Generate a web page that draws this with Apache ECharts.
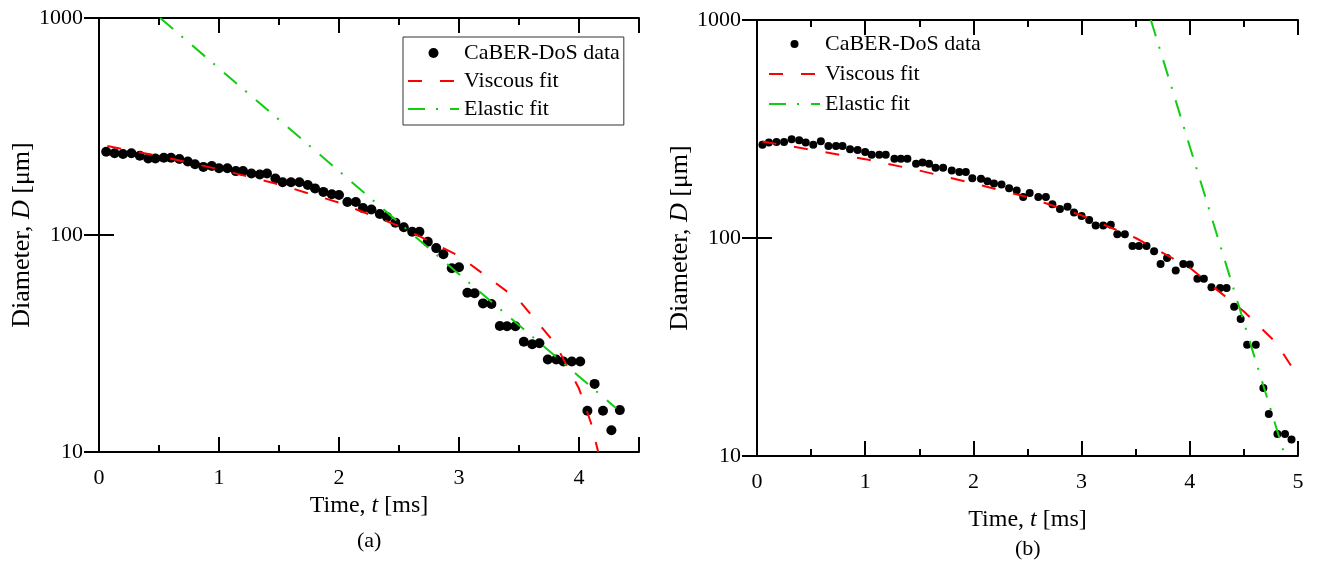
<!DOCTYPE html>
<html>
<head>
<meta charset="utf-8">
<script src="https://cdn.jsdelivr.net/npm/echarts@6/dist/echarts.min.js"></script>
<style>html,body{margin:0;padding:0;background:#fff}#main{width:1317px;height:562px}</style>
</head>
<body>
<div id="main"></div>
<script>
// ---------- DATA ----------
const leftT = [0.06,0.13,0.20,0.27,0.34,0.41,0.47,0.54,0.60,0.67,0.74,0.80,0.87,0.94,1.00,1.07,1.14,1.20,1.27,1.34,1.40,1.47,1.53,1.60,1.67,1.74,1.80,1.87,1.94,2.00,2.07,2.14,2.20,2.27,2.34,2.40,2.47,2.54,2.61,2.67,2.74,2.81,2.87,2.94,3.00,3.07,3.13,3.20,3.27,3.34,3.40,3.47,3.54,3.61,3.67,3.74,3.81,3.87,3.94,4.01,4.07,4.13,4.20,4.27,4.34];
const leftD = [242,238,236,238,232,225,225,227,227,224,218,212,206,208,203,203,197,197,192,190,192,182,175,175,175,170,164,158,154,153,142,142,133,131,125,121,114,108.5,103.5,103.5,93,87,81.5,70.3,71,54.2,53.9,48.4,48.1,38.1,38,38,32.2,31.4,31.7,26.7,26.7,26.1,26.1,26.1,15.5,20.6,15.5,12.6,15.6];
const leftViscT = [0.07,0.5,1.0,1.5,2.0,2.5,3.0,3.5,3.8,4.0,4.1,4.16];
const leftViscD = [257,231,201,171,141,110,80,50,31.7,19.6,13.6,10];
const leftElasT = [0.51,1.0,1.5,2.0,2.5,3.0,3.5,4.0,4.31];
const leftElasD = [1000,586,340,197,114,66,38.4,22.3,15.9];

const rightT = [0.05,0.11,0.18,0.25,0.32,0.39,0.45,0.52,0.59,0.66,0.73,0.79,0.86,0.93,1.00,1.06,1.13,1.19,1.27,1.33,1.39,1.47,1.53,1.59,1.65,1.72,1.80,1.87,1.93,1.99,2.07,2.13,2.19,2.26,2.33,2.40,2.46,2.52,
  2.60,2.67,2.73,2.80,2.87,2.93,3.00,3.07,3.13,3.20,3.27,3.33,3.40,3.47,3.53,3.60,3.67,3.73,3.79,3.87,3.94,4.00,4.07,4.13,4.20,4.28,4.34,4.41,4.47,4.53,4.61,4.68,4.73,4.81,4.88,4.94];
const rightD = [268,274,276,276,284,281,274,268,278,264,264,264,255,253,248,241,241,241,231,231,231,219,222,219,210,210,204,201,201,188,187,182,178,176,169,165,154,161,
  154,154,143,136,139,131,126,121,114,114,115,104,104,92,92,92,87,76,81,71,76,75.5,65,65,59.4,59,59,48.4,42.5,32.4,32.4,20.5,15.6,12.6,12.6,11.9];
const rightViscT = [0.05,0.5,1.0,1.5,2.0,2.5,3.0,3.5,4.0,4.5,4.8,4.98];
const rightViscD = [277,254,230,204,178,154,127,100,73,46,33,24];
const rightElasT = [3.64,3.9,4.2,4.5,4.7,4.88];
const rightElasD = [1000,381,125,41,19.5,10];

const seriesNames = ['CaBER-DoS data','Viscous fit','Elastic fit'];
const xTitle = 'Time, {i|t} [ms]';
const yTitle = 'Diameter, {i|D} [\u03bcm]';
const panelLabels = ['(a)','(b)'];
const xMax = [4.5, 5];

// ---------- STYLE ----------
const FONT = 'Liberation Serif';
const FS = 22;
const FSX = 24;
const FSY = 26;
const RED = '#ff0000';
const GREEN = '#11cc11';
const zip = (a,b) => a.map((v,i)=>[v,b[i]]);
const txt = {fontFamily: FONT, fontSize: FS, color: '#000'};

const grids = [
  {left: 99, top: 18, width: 540, height: 434},
  {left: 757, top: 20, width: 541, height: 436}
];

const xAxes = [];
const yAxes = [];
const nameGapsX = [41, 52];
grids.forEach((g, gi) => {
  const base = {type: 'value', gridIndex: gi, min: 0, max: xMax[gi], splitLine: {show: false}};
  const line = {show: true, lineStyle: {color: '#000', width: 2}};
  xAxes.push(Object.assign({}, base, {
    position: 'bottom', interval: 0.5, axisLine: line,
    axisTick: {show: true, inside: true, length: 7, lineStyle: {color: '#000', width: 2}},
    axisLabel: Object.assign({}, txt, {margin: 15, showMaxLabel: gi === 1,
      formatter: v => (Math.abs(v - Math.round(v)) < 1e-9 ? String(Math.round(v)) : '')}),
    name: xTitle, nameLocation: 'middle', nameGap: nameGapsX[gi],
    nameTextStyle: {fontFamily: FONT, fontSize: FSX, color: '#000', rich: {i: {fontFamily: FONT, fontSize: FSX, fontStyle: 'italic', color: '#000'}}}
  }));
  xAxes.push(Object.assign({}, base, {
    position: 'bottom', interval: 1, axisLine: {show: false},
    axisTick: {show: true, inside: true, length: 15, lineStyle: {color: '#000', width: 2}},
    axisLabel: {show: false}
  }));
  xAxes.push(Object.assign({}, base, {
    position: 'top', interval: 0.5, axisLine: line,
    axisTick: {show: true, inside: true, length: 7, lineStyle: {color: '#000', width: 2}},
    axisLabel: {show: false}
  }));
  xAxes.push(Object.assign({}, base, {
    position: 'top', interval: 1, axisLine: {show: false},
    axisTick: {show: true, inside: true, length: 15, lineStyle: {color: '#000', width: 2}},
    axisLabel: {show: false}
  }));
  const ybase = {type: 'log', logBase: 10, gridIndex: gi, min: 10, max: 1000, splitLine: {show: false}, minorTick: {show: false},
    axisLine: line, axisTick: {show: true, inside: true, length: 15, lineStyle: {color: '#000', width: 2}}};
  yAxes.push(Object.assign({}, ybase, {
    position: 'left',
    axisLabel: Object.assign({}, txt, {margin: 16, formatter: v => String(Math.round(v))}),
    name: yTitle, nameLocation: 'middle', nameGap: 60,
    nameTextStyle: {fontFamily: FONT, fontSize: FSY, color: '#000', rich: {i: {fontFamily: FONT, fontSize: FSY, fontStyle: 'italic', color: '#000'}}}
  }));
  yAxes.push(Object.assign({}, ybase, {position: 'right', axisLabel: {show: false}}));
});

const panels = [
  {pts: zip(leftT, leftD), visc: zip(leftViscT, leftViscD), elas: zip(leftElasT, leftElasD), size: 10},
  {pts: zip(rightT, rightD), visc: zip(rightViscT, rightViscD), elas: zip(rightElasT, rightElasD), size: 8}
];
const series = [];
panels.forEach((p, gi) => {
  series.push({name: seriesNames[0], type: 'scatter', xAxisIndex: gi*4, yAxisIndex: gi*2, data: p.pts,
    symbol: 'circle', symbolSize: p.size, itemStyle: {color: '#000', opacity: 1}, z: 2});
  series.push({name: seriesNames[1], type: 'line', xAxisIndex: gi*4, yAxisIndex: gi*2, data: p.visc,
    symbol: 'none', smooth: false, lineStyle: {color: RED, width: 2, type: [14, 18]}, itemStyle: {color: RED}, z: 3});
  series.push({name: seriesNames[2], type: 'line', xAxisIndex: gi*4, yAxisIndex: gi*2, data: p.elas,
    symbol: 'none', smooth: false, lineStyle: {color: GREEN, width: 2, type: [17, 11, 2, 12]}, itemStyle: {color: GREEN}, z: 3});
});

const legendData = [
  {name: seriesNames[0]},
  {name: seriesNames[1], itemStyle: {opacity: 0}},
  {name: seriesNames[2], itemStyle: {opacity: 0}}
];
const legendBase = {
  orient: 'vertical', itemWidth: 51, itemHeight: 10, itemGap: 5.5,
  textStyle: Object.assign({}, txt, {padding: [0,0,0,0]}), selectedMode: false,
  data: legendData
};

const option = {
  animation: false,
  backgroundColor: '#fff',
  grid: grids,
  xAxis: xAxes,
  yAxis: yAxes,
  legend: [
    Object.assign({}, legendBase, {left: 403, top: 37, padding: [5, 4, 5, 4], itemGap: 6, borderColor: '#333', borderWidth: 1}),
    Object.assign({}, legendBase, {left: 764, top: 28, padding: [5, 4, 5, 4], itemGap: 8, itemHeight: 8})
  ],
  series: series,
  graphic: [
    {type: 'text', left: 369 - 12, top: 530, style: {text: panelLabels[0], font: FS + 'px "' + FONT + '"', fill: '#000'}},
    {type: 'text', left: 1027 - 12, top: 538, style: {text: panelLabels[1], font: FS + 'px "' + FONT + '"', fill: '#000'}}
  ]
};

const chart = echarts.init(document.getElementById('main'), null, {renderer: 'canvas'});
chart.setOption(option);
</script>
</body>
</html>
